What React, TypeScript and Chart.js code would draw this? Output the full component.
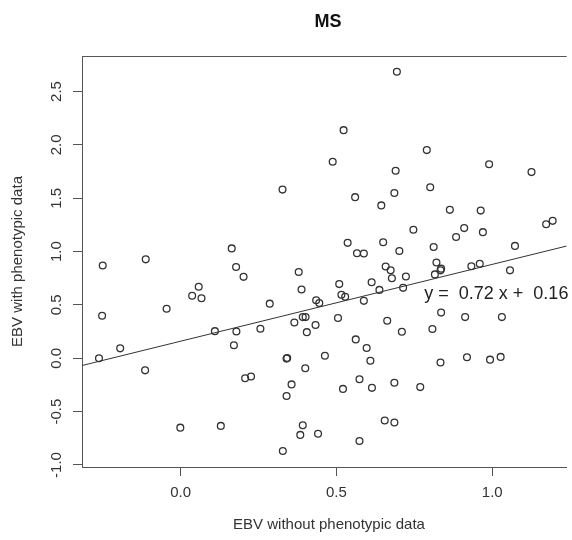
import React, { useEffect, useRef } from "react";
import { Chart, registerables } from "chart.js";
Chart.register(...registerables);

const TITLE = "MS";
const X_LABEL = "EBV without phenotypic data";
const Y_LABEL = "EBV with phenotypic data";
const X_TICKS = [0, 0.5, 1.0];
const Y_TICKS = [-1.0, -0.5, 0, 0.5, 1.0, 1.5, 2.0, 2.5];

const xValues = [
  0.694, 0.523, 0.488, 0.790, 0.990, 0.690, 1.126, 0.327, 0.686, 0.560,
  0.801, 0.644, 0.864, 0.963, 1.173, 1.194, 0.747, 0.910, 0.970, 0.884,
  0.536, 0.650, 1.073, 0.812, 0.702, 0.566, 0.588, 0.164, -0.112, -0.250,
  0.178, 0.202, 0.379, 0.821, 0.658, 0.674, 0.836, 0.834, 0.933, 0.960,
  0.816, 0.723, 0.678, 1.057, 0.613, 0.509, 0.058, 0.037, 0.067, 0.388,
  0.638, 0.714, 0.516, 0.528, 0.435, 0.445, 0.588, 0.286, -0.045, -0.252,
  0.505, 0.392, 0.401, 0.365, 0.433, 0.836, 0.913, 1.031, 0.663, 0.110,
  0.179, 0.256, 0.405, 0.710, 0.808, 0.171, 0.562, -0.194, 0.597, -0.262,
  0.342, 0.340, 0.463, 0.609, 0.919, 0.993, 1.027, 0.834, -0.114, 0.400,
  0.207, 0.226, 0.356, 0.574, 0.686, 0.521, 0.614, 0.769, 0.340, -0.001,
  0.129, 0.392, 0.655, 0.686, 0.384, 0.441, 0.574, 0.328,
];
const yValues = [
  2.685, 2.138, 1.842, 1.951, 1.819, 1.758, 1.745, 1.581, 1.549, 1.510,
  1.603, 1.433, 1.391, 1.384, 1.256, 1.288, 1.204, 1.220, 1.182, 1.137,
  1.082, 1.088, 1.053, 1.043, 1.005, 0.985, 0.982, 1.030, 0.927, 0.869,
  0.856, 0.763, 0.808, 0.898, 0.860, 0.824, 0.840, 0.824, 0.863, 0.885,
  0.786, 0.766, 0.750, 0.824, 0.712, 0.695, 0.670, 0.586, 0.563, 0.644,
  0.641, 0.660, 0.596, 0.576, 0.544, 0.518, 0.538, 0.512, 0.464, 0.399,
  0.377, 0.386, 0.386, 0.335, 0.312, 0.428, 0.386, 0.386, 0.351, 0.254,
  0.251, 0.277, 0.245, 0.248, 0.274, 0.122, 0.177, 0.093, 0.097, 0.000,
  0.003, -0.003, 0.023, -0.023, 0.010, -0.013, 0.013, -0.039, -0.113, -0.093,
  -0.187, -0.171, -0.245, -0.196, -0.229, -0.287, -0.277, -0.270, -0.354, -0.650,
  -0.634, -0.628, -0.583, -0.602, -0.718, -0.708, -0.776, -0.869,
];

// fitted regression line end points
const fitX = [-0.3165, 1.239];
const fitY = [-0.068, 1.052];
const EQUATION = "y =  0.72 x +  0.16";
const EQ_X = 0.782;
const EQ_Y = 0.603;

const X_MIN = -0.3165;
const X_MAX = 1.239;
const Y_MIN = -1.019;
const Y_MAX = 2.833;

const FONT = '"Liberation Sans", Arial, Helvetica, sans-serif';
const INK = "#333";
const AXIS = "#555";

const decor = {
  id: "decor",
  afterDraw(chart: any) {
    const { ctx, chartArea, scales } = chart;
    const xs = scales.x;
    const ys = scales.y;
    ctx.save();
    // top border of the plot box
    ctx.strokeStyle = AXIS;
    ctx.lineWidth = 1;
    const t = Math.round(chartArea.top) + 0.5;
    ctx.beginPath();
    ctx.moveTo(chartArea.left, t);
    ctx.lineTo(chartArea.right, t);
    ctx.stroke();

    // y tick labels (rotated, parallel to axis)
    ctx.fillStyle = INK;
    ctx.font = `15px ${FONT}`;
    ctx.textAlign = "center";
    ctx.textBaseline = "middle";
    Y_TICKS.forEach((v) => {
      const y = ys.getPixelForValue(v);
      ctx.save();
      ctx.translate(chartArea.left - 25, y);
      ctx.rotate(-Math.PI / 2);
      ctx.fillText(v.toFixed(1), 0, 0);
      ctx.restore();
    });

    // axis titles
    ctx.fillText(X_LABEL, 329, 525);
    ctx.save();
    ctx.translate(18, (chartArea.top + chartArea.bottom) / 2);
    ctx.rotate(-Math.PI / 2);
    ctx.fillText(Y_LABEL, 0, 0);
    ctx.restore();

    // main title
    ctx.fillStyle = "#111";
    ctx.font = `bold 18px ${FONT}`;
    ctx.fillText(TITLE, 328, 22);

    // equation
    ctx.fillStyle = "#222";
    ctx.font = `18px ${FONT}`;
    ctx.textAlign = "left";
    ctx.fillText(EQUATION, xs.getPixelForValue(EQ_X), ys.getPixelForValue(EQ_Y));
    ctx.restore();
  },
};

export default function App() {
  const ref = useRef<HTMLCanvasElement | null>(null);
  useEffect(() => {
    if (!ref.current) return;
    const chart = new Chart(ref.current, {
      type: "scatter",
      data: {
        datasets: [
          {
            data: xValues.map((x, i) => ({ x, y: yValues[i] })),
            pointStyle: "circle",
            pointRadius: 3.4,
            pointBorderWidth: 1.3,
            borderColor: INK,
            backgroundColor: "rgba(0,0,0,0)",
          } as any,
          {
            type: "line",
            data: fitX.map((x, i) => ({ x, y: fitY[i] })),
            borderColor: INK,
            borderWidth: 1,
            pointRadius: 0,
            fill: false,
            showLine: true,
          } as any,
        ],
      },
      options: {
        animation: false,
        responsive: false,
        layout: { padding: { top: 56, left: 0, right: 0, bottom: 0 } },
        plugins: {
          legend: { display: false },
          tooltip: { enabled: false },
          title: { display: false },
        },
        scales: {
          x: {
            type: "linear",
            min: X_MIN,
            max: X_MAX,
            afterBuildTicks: (s: any) => {
              s.ticks = X_TICKS.map((v) => ({ value: v }));
            },
            afterFit: (s: any) => {
              s.height = 73;
            },
            ticks: {
              font: { size: 15, family: FONT },
              color: INK,
              padding: 8,
              maxRotation: 0,
              autoSkip: false,
              callback: (v: any) => Number(v).toFixed(1),
            },
            grid: { drawOnChartArea: false, drawTicks: true, tickLength: 9, color: AXIS },
            border: { display: true, color: AXIS, width: 1 },
          },
          y: {
            type: "linear",
            min: Y_MIN,
            max: Y_MAX,
            afterBuildTicks: (s: any) => {
              s.ticks = Y_TICKS.map((v) => ({ value: v }));
            },
            afterFit: (s: any) => {
              s.width = 82;
            },
            ticks: { display: false },
            grid: { drawOnChartArea: false, drawTicks: true, tickLength: 9, color: AXIS },
            border: { display: true, color: AXIS, width: 1 },
          },
        },
      },
      plugins: [decor],
    });
    return () => chart.destroy();
  }, []);
  return (
    <div style={{ position: "fixed", left: 0, top: 0, width: 572, height: 540, background: "#fff", overflow: "hidden" }}>
      <canvas ref={ref} width={572} height={540} style={{ display: "block" }} />
    </div>
  );
}
